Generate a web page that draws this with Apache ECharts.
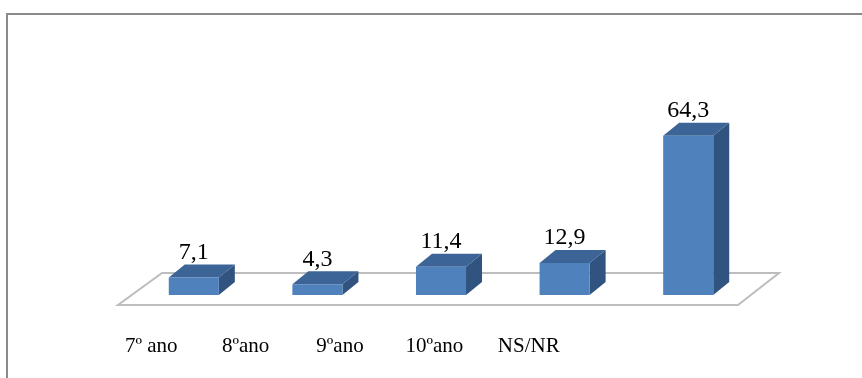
<!DOCTYPE html>
<html>
<head>
<meta charset="utf-8">
<script src="https://cdn.jsdelivr.net/npm/echarts@6/dist/echarts.min.js"></script>
<style>
  html, body { margin: 0; padding: 0; background: #fff; }
  #chart { width: 862px; height: 378px; }
</style>
</head>
<body>
<div id="chart"></div>
<script>
// School year categories and percentages
const categories = ['7º ano', '8ºano', '9ºano', '10ºano', 'NS/NR'];
const values = [7.1, 4.3, 11.4, 12.9, 64.3];

// Pseudo-3D box geometry
const BAR_RATIO = 0.405;
const DEPTH_X = 16;
const DEPTH_Y = 13;
const FRONT = '#4F81BD';
const TOP = '#3C6496';
const SIDE = '#31537F';
const SERIF = '"Liberation Serif", "Times New Roman", serif';

function fmt(v) {
  return String(v).replace('.', ',');
}

function renderFloor(params, api) {
  const cs = params.coordSys;
  const zy = api.coord([0, 0])[1];
  const left = cs.x, right = cs.x + cs.width;
  return {
    type: 'polygon',
    shape: {
      points: [
        [left - 14, zy + 10],
        [right - 12, zy + 10],
        [right + 29, zy - 22],
        [left + 30, zy - 22]
      ]
    },
    style: { fill: '#ffffff', stroke: '#bdbdbd', lineWidth: 2 },
    silent: true
  };
}

function renderBar(params, api) {
  const idx = api.value(0);
  const val = api.value(1);
  const base = api.coord([idx, 0]);
  const top = api.coord([idx, val]);
  const w = api.size([1, 0])[0] * BAR_RATIO;
  const x0 = base[0] - w / 2;
  const x1 = base[0] + w / 2;
  const yb = base[1];
  const yt = top[1];
  return {
    type: 'group',
    children: [
      {
        type: 'polygon',
        shape: { points: [[x1, yb], [x1 + DEPTH_X, yb - DEPTH_Y], [x1 + DEPTH_X, yt - DEPTH_Y], [x1, yt]] },
        style: { fill: SIDE }
      },
      {
        type: 'polygon',
        shape: { points: [[x0, yt], [x1, yt], [x1 + DEPTH_X, yt - DEPTH_Y], [x0 + DEPTH_X, yt - DEPTH_Y]] },
        style: { fill: TOP }
      },
      {
        type: 'rect',
        shape: { x: x0, y: yt, width: w, height: yb - yt },
        style: { fill: FRONT }
      },
      {
        type: 'text',
        x: base[0],
        y: yt - 13,
        style: {
          text: fmt(val),
          fill: '#000',
          font: '24px ' + SERIF,
          align: 'center',
          verticalAlign: 'bottom'
        }
      }
    ]
  };
}

const chart = echarts.init(document.getElementById('chart'), null, { renderer: 'canvas' });

chart.setOption({
  animation: false,
  backgroundColor: '#ffffff',
  graphic: [
    {
      type: 'rect',
      shape: { x: 7, y: 14, width: 900, height: 400 },
      style: { fill: 'none', stroke: '#8a8a8a', lineWidth: 2 },
      silent: true,
      z: 0
    }
  ],
  grid: [
    { left: 132, right: 112, top: 97, bottom: 83 },
    { left: 104, width: 472, top: 333, height: 1 }
  ],
  xAxis: [
    { type: 'category', gridIndex: 0, data: categories, show: false },
    {
      type: 'category',
      gridIndex: 1,
      data: categories,
      axisLine: { show: false },
      axisTick: { show: false },
      axisLabel: { color: '#000', fontFamily: SERIF, fontSize: 21, margin: 2 }
    }
  ],
  yAxis: [
    { type: 'value', gridIndex: 0, min: 0, max: 80, show: false },
    { type: 'value', gridIndex: 1, show: false }
  ],
  series: [
    {
      type: 'custom',
      xAxisIndex: 0,
      yAxisIndex: 0,
      data: [[0, 0]],
      renderItem: renderFloor,
      z: 1
    },
    {
      type: 'custom',
      xAxisIndex: 0,
      yAxisIndex: 0,
      data: categories.map((c, i) => [i, values[i]]),
      encode: { x: 0, y: 1 },
      renderItem: renderBar,
      z: 2
    }
  ]
});
</script>
</body>
</html>
